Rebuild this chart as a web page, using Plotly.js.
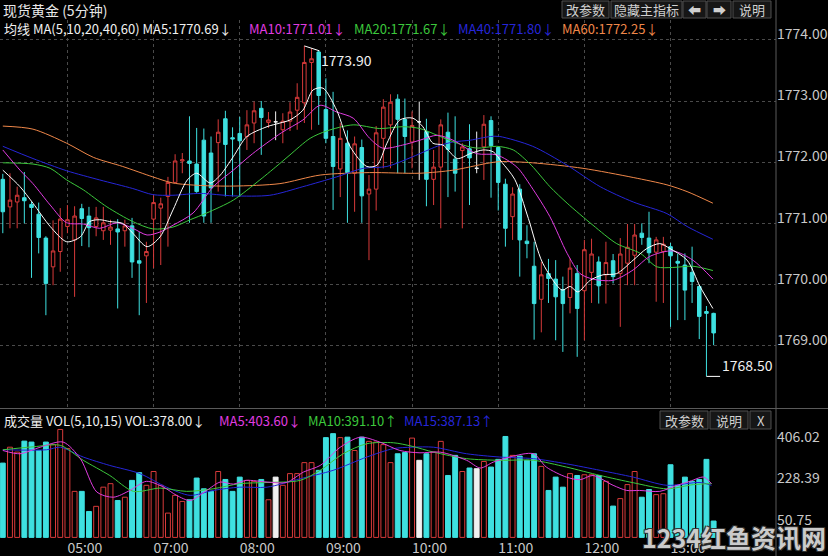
<!DOCTYPE html>
<html><head><meta charset="utf-8">
<script src="https://cdn.plot.ly/plotly-3.0.1.min.js"></script>
<style>html,body{margin:0;padding:0;background:#000;} #chart{width:828px;height:556px;}</style>
</head><body><div id="chart"></div>
<script>
// ---------- data ----------
const openP = [1771.72,1771.27,1771.35,1771.42,1771.31,1771.15,1770.76,1770.29,1770.54,1770.95,
 1770.73,1771.24,1771.12,1770.95,1770.88,1770.89,1770.91,1770.88,1770.96,1770.39,
 1770.47,1771.07,1771.25,1771.44,1771.67,1772.02,1772.02,1771.97,1772.36,1772.15,
 1772.32,1772.71,1772.40,1772.47,1772.42,1772.64,1772.88,1772.65,1772.66,1772.53,
 1772.67,1772.85,1772.97,1773.63,1773.80,1772.86,1772.42,1771.89,1772.31,1771.82,
 1772.24,1771.48,1771.56,1772.39,1772.61,1773.03,1772.70,1772.33,1772.66,1772.50,
 1771.72,1771.92,1772.49,1772.05,1772.19,1772.22,1771.90,1772.25,1772.68,1772.24,
 1771.64,1771.11,1771.56,1770.71,1770.30,1769.76,1770.18,1770.09,1769.92,1769.79,
 1770.18,1769.90,1770.20,1770.37,1770.16,1770.39,1770.18,1770.35,1770.48,1770.84,
 1770.76,1770.53,1770.54,1770.62,1770.38,1770.32,1770.20,1769.97,1769.56,1769.53];
const highP = [1771.81,1771.82,1771.60,1771.84,1771.35,1771.34,1770.79,1771.05,1771.25,1771.30,
 1771.28,1771.32,1771.27,1771.27,1771.27,1771.06,1771.07,1771.06,1771.09,1770.86,
 1770.70,1771.46,1771.42,1771.76,1772.13,1772.15,1772.75,1772.56,1772.55,1772.42,
 1772.70,1772.84,1772.57,1772.74,1772.85,1772.99,1773.00,1772.82,1772.83,1772.80,
 1772.98,1773.29,1773.90,1773.86,1773.82,1773.37,1773.15,1772.64,1772.52,1772.42,
 1772.37,1771.79,1772.59,1773.03,1773.11,1773.11,1773.04,1772.83,1772.99,1772.71,
 1772.20,1772.70,1772.81,1772.75,1772.31,1772.62,1772.50,1772.77,1772.75,1772.26,
 1771.73,1771.59,1771.64,1770.97,1770.70,1770.37,1770.42,1770.40,1770.13,1770.43,
 1770.32,1770.73,1770.75,1770.46,1770.70,1770.50,1770.76,1770.99,1770.99,1771.00,
 1771.19,1770.78,1770.78,1770.68,1770.50,1770.51,1770.62,1769.99,1769.65,1769.54];
const lowP = [1770.84,1770.92,1770.92,1771.00,1770.11,1770.51,1769.50,1769.99,1770.21,1770.84,
 1769.80,1770.63,1770.61,1770.79,1770.73,1770.65,1769.61,1770.62,1770.11,1769.50,
 1769.70,1770.27,1770.32,1770.62,1771.66,1771.82,1771.01,1771.50,1771.01,1771.01,
 1771.52,1771.44,1771.44,1771.44,1772.20,1772.31,1772.12,1772.56,1772.36,1772.31,
 1772.51,1772.53,1772.64,1772.53,1772.61,1772.31,1771.22,1771.43,1771.01,1771.19,
 1771.01,1770.40,1771.21,1771.90,1771.90,1771.82,1771.82,1771.90,1771.71,1771.28,
 1771.30,1770.92,1771.43,1771.52,1770.92,1771.30,1771.82,1771.71,1771.42,1771.21,
 1770.62,1770.73,1770.13,1770.43,1769.10,1769.22,1769.70,1769.09,1768.90,1769.53,
 1768.82,1769.09,1769.70,1769.69,1769.69,1770.02,1769.31,1769.99,1769.99,1770.65,
 1770.35,1769.72,1769.70,1769.31,1769.42,1769.42,1769.70,1769.11,1768.50,1769.01];
const closeP = [1771.19,1771.38,1771.46,1771.37,1771.26,1770.77,1770.02,1770.55,1771.07,1771.06,
 1771.12,1771.08,1770.93,1771.09,1771.01,1770.94,1770.86,1770.96,1770.37,1770.35,
 1770.54,1771.34,1771.32,1771.67,1772.02,1772.04,1771.98,1771.52,1771.12,1771.58,
 1772.49,1772.29,1772.38,1772.35,1772.61,1772.84,1772.73,1772.69,1772.66,1772.67,
 1772.82,1773.06,1773.63,1773.69,1773.09,1772.39,1771.93,1772.39,1771.83,1772.30,
 1771.45,1771.56,1772.48,1772.90,1772.98,1772.70,1772.42,1772.60,1772.66,1771.72,
 1771.92,1772.61,1772.21,1771.82,1772.25,1772.07,1771.90,1772.62,1772.27,1771.67,
 1770.92,1771.48,1770.73,1770.67,1769.69,1770.16,1770.10,1769.80,1769.69,1770.27,
 1769.61,1770.57,1770.50,1769.98,1770.36,1770.13,1770.50,1770.61,1770.81,1770.77,
 1770.52,1770.73,1770.66,1770.47,1770.35,1769.91,1770.05,1769.48,1769.53,1769.21];
const volume = [318,386,365,412,408,372,408,397,462,380,
 197,197,111,133,215,230,158,172,244,277,
 223,282,223,104,180,154,161,254,208,197,
 282,248,197,258,244,240,248,161,258,223,
 273,273,320,320,287,427,444,427,429,372,
 429,411,408,397,320,358,363,425,330,358,
 365,411,265,351,282,297,294,325,301,334,
 432,351,348,330,358,304,201,258,215,273,
 265,268,268,265,240,134,166,226,282,172,
 205,183,187,311,223,258,240,248,334,70];

// price moving-average lines, read as (bar position, value) pairs
const ma5X = [0,2.4,4.2,6.6,8.9,10.8,12.1,13.5,14.9,16.7,18.1,20.1,21.9,23.7,25.7,27.0,28.9,30.3,32.1,34.0,36.8,38.6,40.0,41.8,43.2,44.6,46.5,48.4,50.7,52.1,53.5,55.3,57.1,58.5,59.9,61.3,63.3,65.1,66.9,68.3,69.5,71.3,73.2,75.2,77.9,79.0,80.1,81.8,83.6,85.5,87.8,89.7,91.5,92.9,95.3,97.1,98.9];
const ma5Y = [1771.87,1771.60,1771.33,1770.95,1770.70,1770.78,1771.03,1771.06,1771.03,1771.00,1770.84,1770.62,1770.78,1771.22,1771.71,1771.82,1771.66,1771.79,1772.09,1772.42,1772.58,1772.64,1772.69,1772.85,1773.18,1773.21,1772.85,1772.25,1771.93,1771.95,1772.31,1772.69,1772.72,1772.58,1772.31,1772.28,1772.06,1772.14,1772.20,1772.17,1772.00,1771.72,1771.08,1770.35,1769.91,1769.97,1769.88,1770.07,1770.16,1770.18,1770.40,1770.59,1770.67,1770.59,1770.40,1769.97,1769.61];
const ma10X = [0,2.4,4.2,6.6,8.9,11.2,13.5,15.9,18.1,20.1,21.9,23.7,26.5,29.3,32.1,34.8,38.8,41.8,44.2,46.5,48.8,51.1,52.9,55.7,58.1,60.5,62.7,66.0,68.8,71.6,73.6,76.2,78.6,80.4,82.2,85.0,87.8,90.1,93.3,96.1,98.9];
const ma10Y = [1772.20,1771.87,1771.65,1771.30,1771.01,1770.99,1770.92,1771.01,1770.92,1770.81,1770.86,1770.97,1771.17,1771.60,1771.87,1772.14,1772.48,1772.69,1772.93,1772.82,1772.72,1772.39,1772.23,1772.28,1772.36,1772.44,1772.36,1772.14,1772.12,1771.92,1771.60,1771.11,1770.51,1770.18,1770.09,1770.07,1770.24,1770.46,1770.55,1770.40,1770.09];
const ma20X = [0,4.2,6.6,8.9,11.2,14.5,18.1,20.9,23.7,26.1,28.4,32.1,35.8,38.6,40.0,42.8,45.1,48.8,52.5,55.7,58.1,60.5,63.3,66.0,68.8,71.1,73.6,76.2,78.6,82.2,85.5,88.8,91.1,93.3,96.1,98.9];
const ma20Y = [1771.99,1771.97,1771.90,1771.71,1771.55,1771.27,1771.03,1770.91,1770.94,1771.06,1771.17,1771.38,1771.71,1771.98,1772.12,1772.39,1772.51,1772.61,1772.55,1772.58,1772.55,1772.44,1772.31,1772.23,1772.26,1772.20,1771.95,1771.60,1771.33,1770.97,1770.67,1770.51,1770.29,1770.28,1770.30,1770.23];
const ma40X = [0,4.2,8.9,13.5,18.1,20.9,23.7,27.5,32.1,37.2,41.8,46.5,50.2,53.5,57.1,60.5,62.7,65.1,67.9,69.2,73.8,78.6,83.2,87.8,92.5,95.3,98.9];
const ma40Y = [1772.26,1772.06,1771.86,1771.71,1771.57,1771.47,1771.46,1771.49,1771.45,1771.46,1771.60,1771.76,1771.90,1771.93,1772.09,1772.26,1772.33,1772.36,1772.42,1772.42,1772.26,1771.95,1771.60,1771.35,1771.16,1770.95,1770.74];
const ma60X = [0,4.2,8.9,12.6,16.7,20.9,23.7,27.5,32.1,38.6,44.2,51.1,58.1,62.7,67.4,69.2,73.8,80.8,87.8,92.5,95.3,98.9];
const ma60Y = [1772.59,1772.54,1772.31,1772.08,1771.93,1771.76,1771.66,1771.62,1771.61,1771.65,1771.79,1771.83,1771.82,1771.87,1771.98,1772.01,1771.99,1771.90,1771.75,1771.63,1771.52,1771.33];

// volume moving-average lines
const vma5X = [0,2.4,5.2,8.4,10.8,13.1,15.4,17.7,20.0,22.4,24.2,26.1,28.4,30.3,32.1,33.9,36.8,39.5,41.9,44.2,47.0,49.8,52.5,55.3,58.1,60.9,64.6,66.5,68.3,70.6,73.9,75.7,78.5,80.4,82.2,85.0,86.9,88.7,91.5,93.9,95.7,97.6,98.7];
const vma5Y = [372,358,386,408,337,194,172,201,240,215,180,158,201,237,228,244,237,235,280,308,386,429,408,372,362,365,330,297,322,344,358,301,258,247,265,223,201,201,197,223,240,258,230];
const vma10X = [0,4.3,8.0,11.2,14.9,18.2,21.9,25.6,29.3,33.0,36.8,41.4,44.2,47.4,50.7,54.4,57.0,60.0,64.6,69.2,73.9,78.5,83.2,87.8,92.5,96.2,98.7];
const vma10Y = [375,388,394,330,265,197,211,197,208,230,235,244,287,358,401,405,390,365,337,330,330,301,265,234,208,226,230];
const vma15X = [0,6.1,8.0,11.2,14.9,19.1,22.8,26.1,29.3,33.0,36.8,41.4,46.0,50.7,54.4,57.0,60.0,64.6,69.2,73.9,78.5,83.2,87.8,92.5,97.1,98.7];
const vma15Y = [375,375,386,344,308,273,215,180,201,215,215,251,287,344,380,386,386,358,344,337,315,287,258,223,235,223];

const tickIdx = [9,21,33,45,57,69,81,93];
const tickLabels = ['05:00','07:00','08:00','09:00','10:00','11:00','12:00','13:00'];
const priceTicks = [1769,1770,1771,1772,1773,1774];
const volTicks = [50.75,228.39,406.02];

// ---------- build ----------
const W = 828, H = 556, PW = 776;
const px = v => v / PW;          // paper x from pixel
const py = v => 1 - v / H;       // paper y from pixel
const RED = '#d83a3a', CYAN = '#3ee0e0', WHITE = '#f0f0f0';
const FONT = '"Noto Sans CJK SC", "Noto Sans", sans-serif';

const idx = openP.map((_, i) => i);
const isDoji = idx.map(i => openP[i] === closeP[i]);
const norm = idx.filter(i => !isDoji[i]);
const doji = idx.filter(i => isDoji[i]);
const pick = (arr, ids) => ids.map(i => arr[i]);

const traces = [];
traces.push({
  type: 'candlestick', x: norm, open: pick(openP, norm), high: pick(highP, norm),
  low: pick(lowP, norm), close: pick(closeP, norm), xaxis: 'x', yaxis: 'y',
  increasing: {line: {color: RED, width: 1}, fillcolor: '#000000'},
  decreasing: {line: {color: CYAN, width: 1}, fillcolor: CYAN},
  whiskerwidth: 0, hoverinfo: 'skip', showlegend: false
});
traces.push({
  type: 'candlestick', x: doji, open: pick(openP, doji), high: pick(highP, doji),
  low: pick(lowP, doji), close: pick(closeP, doji), xaxis: 'x', yaxis: 'y',
  increasing: {line: {color: WHITE, width: 1}, fillcolor: WHITE},
  decreasing: {line: {color: WHITE, width: 1}, fillcolor: WHITE},
  whiskerwidth: 0, hoverinfo: 'skip', showlegend: false
});
const maLine = (x, y, color, xa, ya) => ({
  type: 'scatter', mode: 'lines', x: x, y: y, xaxis: xa, yaxis: ya,
  line: {color: color, width: 1, shape: 'spline', smoothing: 0.8},
  hoverinfo: 'skip', showlegend: false
});
traces.push(maLine(ma60X, ma60Y, '#f0884a', 'x', 'y'));
traces.push(maLine(ma40X, ma40Y, '#2626d8', 'x', 'y'));
traces.push(maLine(ma20X, ma20Y, '#3cc83c', 'x', 'y'));
traces.push(maLine(ma10X, ma10Y, '#e03ce0', 'x', 'y'));
traces.push(maLine(ma5X, ma5Y, '#ffffff', 'x', 'y'));

const barFill = idx.map(i => isDoji[i] ? WHITE : (closeP[i] > openP[i] ? '#000000' : CYAN));
const barLine = idx.map(i => isDoji[i] ? WHITE : (closeP[i] > openP[i] ? RED : CYAN));
traces.push({
  type: 'bar', x: idx, y: volume, xaxis: 'x2', yaxis: 'y2', width: 0.68,
  marker: {color: barFill, line: {color: barLine, width: 1}},
  hoverinfo: 'skip', showlegend: false
});
traces.push(maLine(vma15X, vma15Y, '#2626d8', 'x2', 'y2'));
traces.push(maLine(vma10X, vma10Y, '#3cc83c', 'x2', 'y2'));
traces.push(maLine(vma5X, vma5Y, '#e03ce0', 'x2', 'y2'));

// pixel mapping of the reference: price y-pixel = 101 + (1773 - p) * 61.2
const pTop = 1773 + (101 - 20) / 61.2, pBot = 1773 - (408 - 101) / 61.2;
const vScale = 4.28, vZero = 537.4, vBotPx = 538;
const vTop = (vZero - 410) * vScale, vBot = (vZero - vBotPx) * vScale;
const xLo = -2.8 / 7.18, xHi = (PW - 2.8) / 7.18;

const gridCol = '#4a4a4a';
const layout = {
  width: W, height: H, paper_bgcolor: '#000', plot_bgcolor: '#000',
  margin: {l: 0, r: W - PW, t: 0, b: 0, pad: 0},
  font: {family: FONT, color: '#c8c8c8', size: 13},
  showlegend: false, bargap: 0.3, boxmode: 'overlay', boxgap: 0.3,
  xaxis: {domain: [0, 1], range: [xLo, xHi], anchor: 'y', tickvals: tickIdx,
    showticklabels: false, ticks: '', showgrid: true, gridcolor: gridCol, griddash: 'dot',
    gridwidth: 1, zeroline: false, showline: false, rangeslider: {visible: false}, fixedrange: true},
  yaxis: {domain: [1 - 408 / H, 1 - 20 / H], range: [pBot, pTop], side: 'right',
    tickvals: priceTicks, tickformat: '.2f', ticklabelposition: 'outside top', ticklabelshift: 4, ticks: '',
    showgrid: true, gridcolor: gridCol, griddash: 'dot', gridwidth: 1, zeroline: false,
    tickfont: {size: 14, color: '#c8c8c8'}, fixedrange: true},
  xaxis2: {domain: [0, 1], range: [xLo, xHi], anchor: 'y2', tickvals: tickIdx, ticktext: tickLabels,
    ticklabelposition: 'outside right', ticks: '', showgrid: false, zeroline: false,
    showline: false, tickfont: {size: 14, color: '#c8c8c8'}, fixedrange: true},
  yaxis2: {domain: [1 - vBotPx / H, 1 - 410 / H], range: [vBot, vTop], side: 'right',
    tickvals: volTicks, ticktext: volTicks.map(v => v.toFixed(2)), ticklabelposition: 'outside top', ticklabelshift: 4,
    ticks: '', showgrid: false, zeroline: false, tickfont: {size: 14, color: '#c8c8c8'}, fixedrange: true},
  shapes: [], annotations: []
};

const ann = (text, xp, yp, color, size, extra) => layout.annotations.push(Object.assign({
  text: text, xref: 'paper', yref: 'paper', x: px(xp), y: py(yp), xanchor: 'left', yanchor: 'middle',
  showarrow: false, font: {family: FONT, size: size, color: color}, borderpad: 0
}, extra || {}));

// panel frame lines
layout.shapes.push({type: 'line', xref: 'paper', yref: 'paper', x0: px(PW), x1: px(PW), y0: 0, y1: 1, line: {color: '#5a5a5a', width: 1}});
layout.shapes.push({type: 'line', xref: 'paper', yref: 'paper', x0: 0, x1: px(W), y0: py(408.5), y1: py(408.5), line: {color: '#5a5a5a', width: 1}});

// buttons
const button = (x0, x1, y0, y1, label) => {
  layout.shapes.push({type: 'rect', xref: 'paper', yref: 'paper', x0: px(x0), x1: px(x1), y0: py(y1), y1: py(y0),
    line: {color: '#4e4e4e', width: 1}, fillcolor: '#161616'});
  ann(label, (x0 + x1) / 2, (y0 + y1) / 2, '#d0d0d0', 13, {xanchor: 'center'});
};
button(562, 609, 1, 18, '改参数');
button(611, 682, 1, 18, '隐藏主指标');
button(683, 706, 1, 18, '⬅');
button(707, 731, 1, 18, '➡');
button(733, 771, 1, 18, '说明');
button(660, 708, 411, 429, '改参数');
button(710, 748, 411, 429, '说明');
button(750, 771, 411, 429, 'X');

// header texts
ann('现货黄金 (5分钟)', 2, 10, '#e8e8e8', 14);
ann('均线 MA(5,10,20,40,60) MA5:1770.69↓', 3, 28, '#f0f0f0', 13);
ann('MA10:1771.01↓', 248, 28, '#e03ce0', 13);
ann('MA20:1771.67↓', 353, 28, '#3cc83c', 13);
ann('MA40:1771.80↓', 457, 28, '#2626d8', 13);
ann('MA60:1772.25↓', 561, 28, '#f0884a', 13);
ann('成交量 VOL(5,10,15) VOL:378.00↓', 3, 420, '#f0f0f0', 13);
ann('MA5:403.60↓', 218, 420, '#e03ce0', 13);
ann('MA10:391.10↑', 307, 420, '#3cc83c', 13);
ann('MA15:387.13↑', 403, 420, '#2626d8', 13);

// extreme price markers
const hiIdx = highP.indexOf(Math.max(...highP));
const loIdx = lowP.indexOf(Math.min(...lowP));
layout.shapes.push({type: 'line', xref: 'x', yref: 'y', x0: hiIdx, y0: highP[hiIdx], x1: hiIdx + 2.1, y1: highP[hiIdx] - 0.08, line: {color: '#ffffff', width: 1}});
layout.annotations.push({text: highP[hiIdx].toFixed(2), xref: 'x', yref: 'y', x: hiIdx + 2.2, y: highP[hiIdx] - 0.05,
  xanchor: 'left', yanchor: 'top', showarrow: false, font: {family: FONT, size: 14, color: '#f0f0f0'}, borderpad: 0});
layout.shapes.push({type: 'line', xref: 'x', yref: 'y', x0: loIdx, y0: lowP[loIdx], x1: loIdx + 1.9, y1: lowP[loIdx], line: {color: '#ffffff', width: 1}});
layout.annotations.push({text: lowP[loIdx].toFixed(2), xref: 'x', yref: 'y', x: loIdx + 2.0, y: lowP[loIdx],
  xanchor: 'left', yanchor: 'bottom', showarrow: false, font: {family: FONT, size: 14, color: '#f0f0f0'}, borderpad: 0});

// watermark
ann('1234红鱼资讯网', 641, 537, 'rgba(214,214,214,0.95)', 25, {
  font: {family: FONT, size: 25, color: 'rgba(214,214,214,0.95)', weight: 700,
    shadow: '-1px -1px 0 #333, 1px -1px 0 #333, -1px 1px 0 #333, 1px 1px 0 #333'}});

Plotly.newPlot('chart', traces, layout, {staticPlot: true, displayModeBar: false});
</script>
</body></html>
